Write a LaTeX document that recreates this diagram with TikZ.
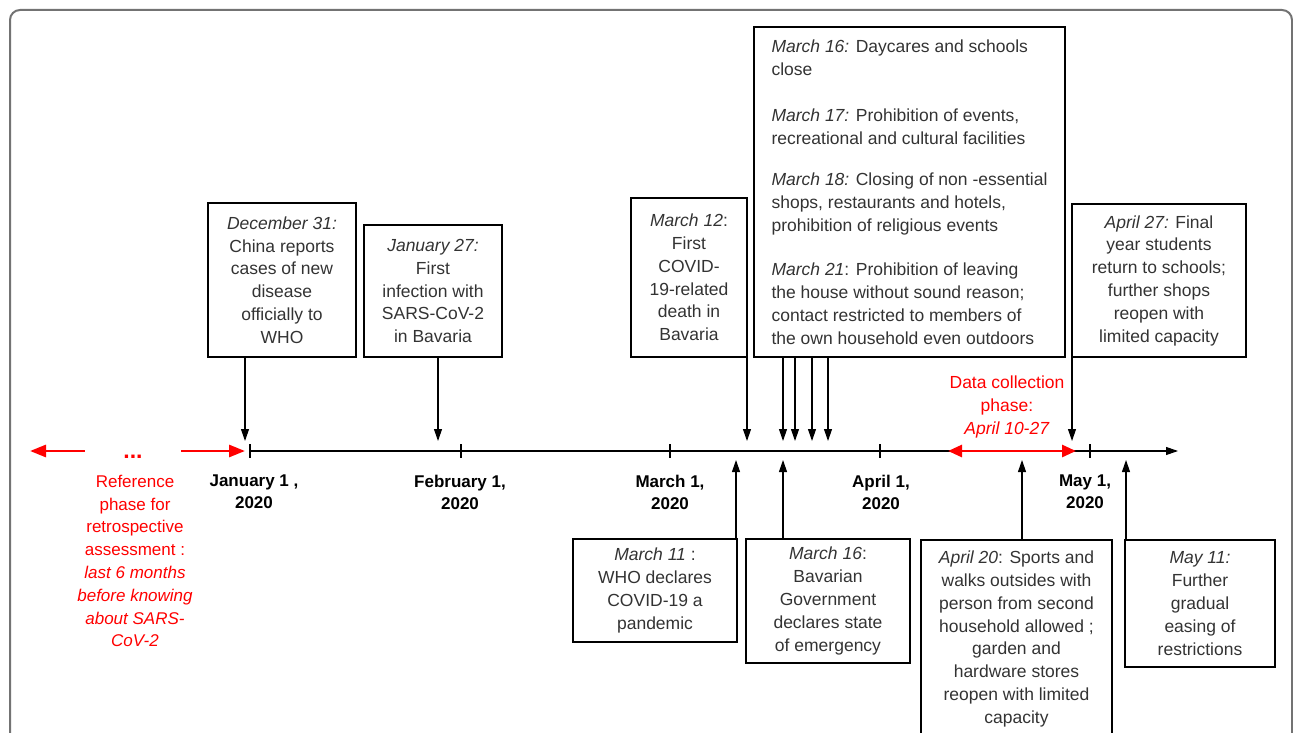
\documentclass[tikz,border=0pt]{standalone}
\usepackage{fontspec}
\setmainfont{Liberation Sans}
\usetikzlibrary{arrows.meta}

\begin{document}
\begin{tikzpicture}[x=1pt,y=-1pt]
\tikzset{BoxStyle/.style = 
	{shape = rectangle,
		draw = black,
		line width = 1.4pt,
		inner sep = 0pt,
		align = center,
		text = black!80,
		font = \fontsize{17.5}{22.8}\selectfont},
	EdgeStyle/.style = {line width=1.1pt, -{Triangle[length=12pt,width=8pt]}},
	RedStyle/.style = {text=red, align=center, inner sep=0pt,
		font=\fontsize{17}{22.8}\selectfont},
	RedArrow/.style = {draw=red, line width=2.8pt, -{Triangle[length=16pt,width=12pt]}},
	DateStyle/.style = {align=center, inner sep=0pt,
		font=\bfseries\fontsize{17}{22}\selectfont}}
\useasboundingbox (0,0) rectangle (1293,733);
\draw[black!55, line width=2pt, rounded corners=10pt] (10,10) rectangle (1292,770);

% timeline
\coordinate (Start) at (250,451);
\coordinate (End) at (1178,451);
\draw[line width=1.1pt, -{Triangle[length=12pt,width=8pt]}] (Start) -- (End);
\foreach \t/\l/\m in {250/254/{January 1 ,}, 461/460/{February 1,}, 670/670/{March 1,},
	880/881/{April 1,}, 1090/1085/{May 1,}}{
	\draw[line width=1.1pt] (\t,444) -- (\t,458);
	\node[DateStyle] (Date\t) at (\l,492) {\m\\2020};
}

% reference phase
\node[RedStyle, font=\bfseries\fontsize{23}{24}\selectfont, minimum width=96pt] (Dots) at (133,457) {...};
\coordinate (LeftEnd) at (30,451);
\draw[RedArrow] (Dots.west |- Start) -- (LeftEnd);
\draw[RedArrow] (Dots.east |- Start) -- ([xshift=-5pt]Start);
\node[RedStyle] (RefPhase) at (135,561) {Reference\\phase for\\retrospective\\assessment :\\
	\textit{last 6 months}\\\textit{before knowing}\\\textit{about SARS-}\\\textit{CoV-2}};

% data collection phase
\node[RedStyle, font=\fontsize{17.5}{22.8}\selectfont] (DataPhase) at (1007,407) {Data collection\\phase:\\\textit{April 10-27}};
\coordinate (DataStart) at (948,451);
\coordinate (DataEnd) at (1076,451);
\draw[RedArrow, {Triangle[length=14pt,width=12pt]}-{Triangle[length=14pt,width=12pt]}] (DataStart) -- (DataEnd);

% events above
\node[BoxStyle, minimum width=148pt, minimum height=154pt] (Dec31) at (282,280)
	{\textit{December 31:}\\China reports\\cases of new\\disease\\officially to\\WHO};
\node[BoxStyle, minimum width=138pt, minimum height=132pt] (Jan27) at (433,291)
	{\textit{January 27:}\\First\\infection with\\SARS-CoV-2\\in Bavaria};
\node[BoxStyle, minimum width=116pt, minimum height=159pt] (Mar12) at (689,277.5)
	{\textit{March 12}:\\First\\COVID-\\19-related\\death in\\Bavaria};
\node[BoxStyle, align=left, minimum width=311pt, minimum height=330pt] (MarBig) at (909.5,192)
	{\textit{March 16:} Daycares and schools\\close\\[24pt]
	\textit{March 17:} Prohibition of events,\\recreational and cultural facilities\\[18pt]
	\textit{March 18:} Closing of non -essential\\shops, restaurants and hotels,\\prohibition of religious events\\[22pt]
	\textit{March 21}: Prohibition of leaving\\the house without sound reason;\\contact restricted to members of\\the own household even outdoors};
\node[BoxStyle, minimum width=174pt, minimum height=153pt] (Apr27) at (1159,280.5)
	{\textit{April 27:} Final\\year students\\return to schools;\\further shops\\reopen with\\limited capacity};

% events below
\node[BoxStyle, minimum width=164pt, minimum height=103pt] (Mar11) at (655,590.5)
	{\textit{March 11} :\\WHO declares\\COVID-19 a\\pandemic};
\node[BoxStyle, minimum width=164pt, minimum height=124pt] (Mar16) at (828,601)
	{\textit{March 16}:\\Bavarian\\Government\\declares state\\of emergency};
\node[BoxStyle, minimum width=191pt, minimum height=198pt] (Apr20) at (1016.5,639)
	{\textit{April 20}: Sports and\\walks outsides with\\person from second\\household allowed ;\\garden and\\hardware stores\\reopen with limited\\capacity};
\node[BoxStyle, minimum width=150pt, minimum height=127pt] (May11) at (1200,603.5)
	{\textit{May 11:}\\Further\\gradual\\easing of\\restrictions};

% arrows to the timeline
\coordinate (tDec31) at (245,441);
\coordinate (tJan27) at (438,441);
\coordinate (tMar12) at (747,441);
\coordinate (tApr27) at (1072,441);
\draw[EdgeStyle] (Dec31.south -| tDec31) -- (tDec31);
\draw[EdgeStyle] (Jan27.south -| tJan27) -- (tJan27);
\draw[EdgeStyle] (Mar12.south -| tMar12) -- (tMar12);
\draw[EdgeStyle] (Apr27.south -| tApr27) -- (tApr27);
\foreach \x [count=\i] in {783,795,812,828}{
	\coordinate (tMarBig\i) at (\x,441);
	\draw[EdgeStyle] (MarBig.south -| tMarBig\i) -- (tMarBig\i);
}
\coordinate (tMar11) at (736,460);
\coordinate (tMar16) at (783,460);
\coordinate (tApr20) at (1022,460);
\coordinate (tMay11) at (1126,460);
\draw[EdgeStyle] (Mar11.north -| tMar11) -- (tMar11);
\draw[EdgeStyle] (Mar16.north -| tMar16) -- (tMar16);
\draw[EdgeStyle] (Apr20.north -| tApr20) -- (tApr20);
\draw[EdgeStyle] (May11.north -| tMay11) -- (tMay11);
\end{tikzpicture}
\end{document}
